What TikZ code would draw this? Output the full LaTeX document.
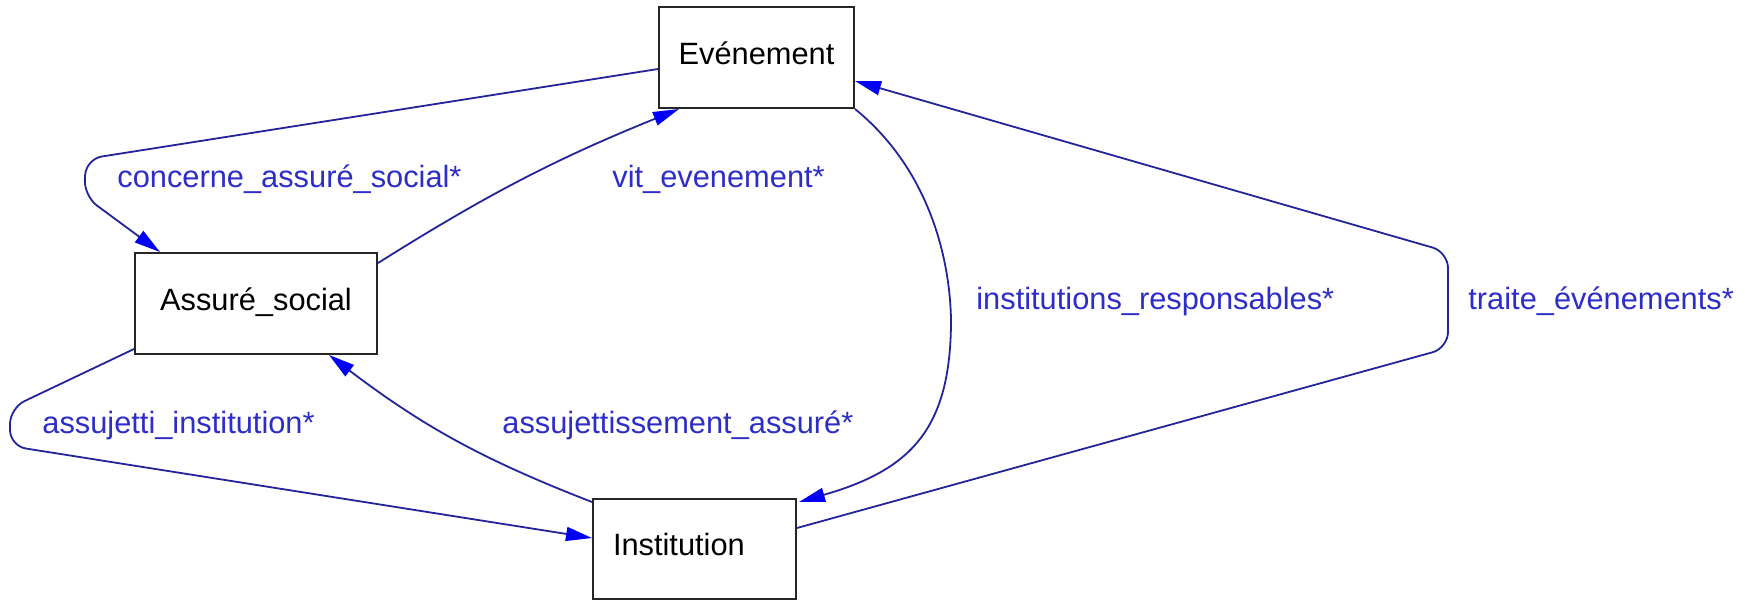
\documentclass[tikz,border=0pt]{standalone}
\usepackage{fontspec}
\setmainfont{Liberation Sans}
\usetikzlibrary{arrows.meta,calc}
\definecolor{edgeblue}{RGB}{35,35,155}
\definecolor{labelblue}{RGB}{45,45,200}
\definecolor{tipblue}{RGB}{0,0,245}

\begin{document}
\begin{tikzpicture}[x=0.5pt, y=-0.5pt,
		classbox/.style={draw=black!85, line width=1pt, fill=white, font=\fontsize{15.4}{18}\selectfont, text height=11pt, text depth=4.5pt, inner sep=0pt},
		rolelink/.style={draw=edgeblue, line width=0.9pt, -{Triangle[length=13pt, width=7pt, color=tipblue]}},
		rolename/.style={text=labelblue, font=\fontsize{15.4}{18}\selectfont, anchor=base west, inner sep=0pt}]
		%%%%% START %%%%%
		\useasboundingbox (0,0) rectangle (1745,600);
		
		\node[classbox, minimum width=97.5pt, minimum height=50.5pt] (evt) at (756.5,57.5) {Evénement};
		\node[classbox, minimum width=121pt, minimum height=50.5pt] (ass) at (256,303.5) {Assuré\_social};
		\node[classbox, minimum width=101.5pt, minimum height=50pt, text width=81.5pt, inner xsep=10pt, align=left] (inst) at (694.5,549) {Institution};
		
		\draw[rolelink, rounded corners=8pt] ([yshift=-5.75pt]evt.west) -- (86,159) -- (84,196) -- ([xshift=13pt]ass.north west);
		\draw[rolelink] ([yshift=-5.5pt]ass.north east) to[bend left=5] ([xshift=10.5pt]evt.south west);
		\draw[rolelink] ([yshift=-2pt]inst.north west) to[bend left=8] ([xshift=-24.5pt]ass.south east);
		\draw[rolelink] (evt.south east) .. controls (930,170) and (950,260) .. (951,320) .. controls (951,430) and (910,470) .. ([xshift=1pt,yshift=-2pt]inst.north east);
		\draw[rolelink, rounded corners=8pt] ([yshift=10.5pt]inst.east) -- (1448,348) -- (1448,252) -- ([yshift=-11.75pt]evt.east);
		\draw[rolelink, rounded corners=8pt] ([yshift=3pt]ass.south west) -- (10,408) -- (10,446) -- ([yshift=5.5pt]inst.west);
		
		\node[rolename] (concerne) at (117,187) {concerne\_assuré\_social*};
		\node[rolename] (vit) at (612,187) {vit\_evenement*};
		\node[rolename] (responsables) at (976,309) {institutions\_responsables*};
		\node[rolename] (traite) at (1468,309) {traite\_événements*};
		\node[rolename] (assujetti) at (42,433) {assujetti\_institution*};
		\node[rolename] (assujettissement) at (502,433) {assujettissement\_assuré*};
		
		%%%%% END %%%%%
	\end{tikzpicture}
\end{document}
